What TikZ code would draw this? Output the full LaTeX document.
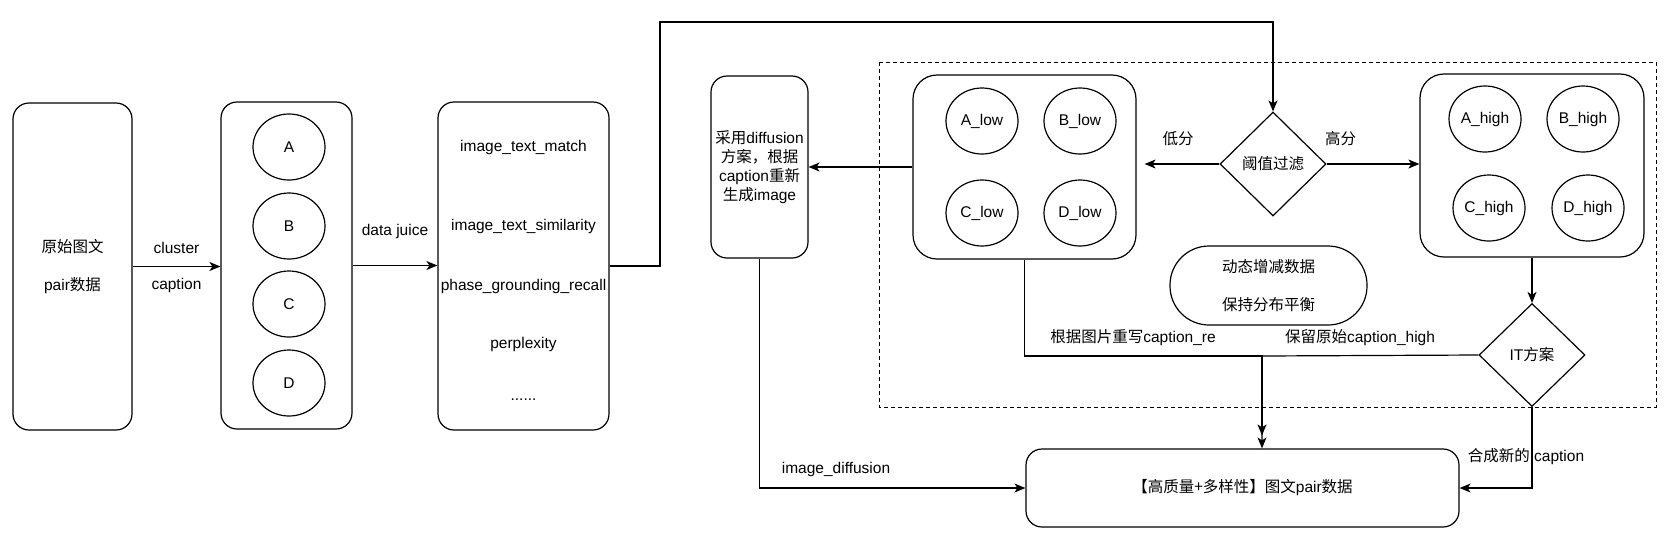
\documentclass[tikz,border=0pt]{standalone}
\usepackage{fontspec}
\setmainfont{Liberation Sans}
\newfontfamily\cjk{Noto Sans CJK SC}
\newcommand{\zh}[1]{{\cjk #1}}
\usetikzlibrary{shapes.geometric, arrows.meta}

\begin{document}
\begin{tikzpicture}[x=1pt, y=-1pt, line width=1.2pt,
    every node/.style={font=\fontsize{15.5}{19}\selectfont, align=center}]

\tikzset{
    panel/.style={draw, rounded corners=16pt},
    groupbox/.style={draw, rounded corners=24pt},
    pill/.style={draw, rounded corners=39pt},
    cluster/.style={ellipse, draw, minimum width=72pt, minimum height=66pt, inner sep=0pt},
    decision/.style={diamond, draw, minimum width=106pt, minimum height=104pt, inner sep=0pt},
    flow/.style={-{Stealth[length=11pt, width=9pt, inset=3pt]}},
    groupframe/.style={draw, dash pattern=on 4pt off 3pt, line width=1pt}
}

\useasboundingbox (0,0) rectangle (1672,542);

% filter group
\draw[groupframe] (879,62) rectangle (1656,407);

\node[panel, minimum width=119pt, minimum height=327pt] (raw) at (72.5,266.5) {\zh{原始图文}\\[19pt]pair\zh{数据}};

\node[panel, minimum width=131pt, minimum height=327pt] (clus) at (286.5,265.5) {};
\foreach \n/\y in {A/147, B/226, C/304, D/383} {
    \node[cluster] (c\n) at (289,\y) {\n};
}

\node[panel, minimum width=171pt, minimum height=328pt] (metrics) at (523.5,266) {};
\foreach \y/\txt [count=\i] in {147/image\_text\_match, 226/image\_text\_similarity,
        286/phase\_grounding\_recall, 344/perplexity} {
    \node (m\i) at (523.5,\y) {\txt};
}
\node (m5) at (523.5,400) {......};

\node[panel, minimum width=97pt, minimum height=182pt] (diff) at (759.5,167)
    {\zh{采用}diffusion\\\zh{方案，根据}\\caption\zh{重新}\\\zh{生成}image};

\node[groupbox, minimum width=223pt, minimum height=184pt] (lowbox) at (1024.5,167) {};
\foreach \n/\x/\y in {A/982/121, B/1080/121, C/982/213, D/1080/213} {
    \node[cluster] (low\n) at (\x,\y) {\n\_low};
}

\node[decision] (filter) at (1273,164) {\zh{阈值过滤}};

\node[groupbox, minimum width=224pt, minimum height=183pt] (highbox) at (1532,165.5) {};
\foreach \n/\x/\y in {A/1485/119, B/1583/119, C/1489/208, D/1588/208} {
    \node[cluster] (high\n) at (\x,\y) {\n\_high};
}

\node[decision, minimum height=103pt] (it) at (1532,355) {IT\zh{方案}};

\node[pill, minimum width=197pt, minimum height=79pt] (balance) at (1268.5,285.5)
    {\zh{动态增减数据}\\[19pt]\zh{保持分布平衡}};

\node[panel, minimum width=433pt, minimum height=78pt] (result) at (1242.5,488)
    {\zh{【高质量+多样性】图文}pair\zh{数据}};

\coordinate (toprun) at (660,22);
\coordinate (merge) at (1262,356);

% connectors
\draw[flow] (raw.east) -- (raw.east -| clus.west)
    node[midway, yshift=19pt] {cluster} node[midway, yshift=-19pt] {caption};
\draw[flow] (clus.east) -- (clus.east -| metrics.west) node[midway, yshift=34pt] {data juice};
\draw[flow] (metrics.east) -| (toprun) -| (filter.north);
\draw[flow, shorten >=8pt] (filter.west) -- (filter.west -| lowbox.east) node[midway, yshift=25pt] {\zh{低分}};
\draw[flow] (filter.east) -- (filter.east -| highbox.west) node[pos=0.15, yshift=25pt] {\zh{高分}};
\draw[flow] (lowbox.west) -- (diff.east);
\draw[flow] (highbox.south) -- (it.north);
\draw[flow, shorten >=13pt] (lowbox.south) |- (merge) -- (merge |- result.north);
\draw[flow] (it.west) -- (merge) -- (merge |- result.north);
\draw[flow] (it.south) |- (result.east);
\draw[flow] (diff.south) |- (result.west);

% labels
\node (relabel) at (1133,338) {\zh{根据图片重写}caption\_re};
\node (keeplabel) at (1360,338) {\zh{保留原始}caption\_high};
\node (newlabel) at (1526,457) {\zh{合成新的} caption};
\node (difflabel) at (836,469) {image\_diffusion};

\end{tikzpicture}
\end{document}
